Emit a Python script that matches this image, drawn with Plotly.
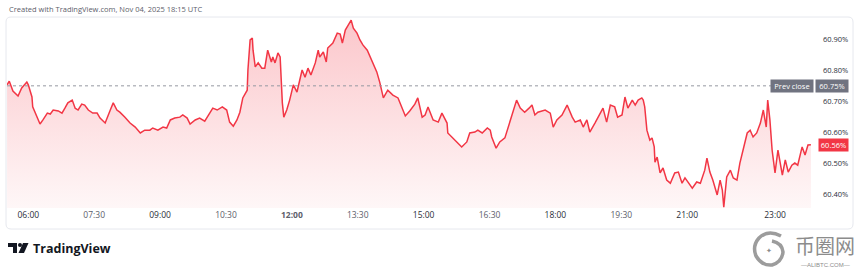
import plotly.graph_objects as go

DATE = "2025-11-04"

times = [
    "05:31", "05:34", "05:39", "05:46", "05:51", "05:58", "06:00", "06:05", "06:06", "06:12",
    "06:16", "06:20", "06:26", "06:30", "06:34", "06:41", "06:46", "06:50", "06:54", "07:00",
    "07:04", "07:08", "07:13", "07:17", "07:22", "07:28", "07:34", "07:38", "07:45", "07:52",
    "07:56", "08:01", "08:05", "08:12", "08:19", "08:26", "08:33", "08:39", "08:46", "08:50",
    "08:57", "09:04", "09:09", "09:14", "09:20", "09:27", "09:31", "09:37", "09:41", "09:48",
    "09:54", "10:01", "10:12", "10:18", "10:25", "10:31", "10:35", "10:40", "10:45", "10:49",
    "10:53", "10:59", "11:00", "11:03", "11:06", "11:07", "11:10", "11:14", "11:19", "11:23",
    "11:26", "11:27", "11:32", "11:34", "11:37", "11:41", "11:44", "11:45", "11:47", "11:49",
    "11:53", "11:57", "12:02", "12:07", "12:14", "12:18", "12:22", "12:26", "12:32", "12:36",
    "12:38", "12:43", "12:47", "12:49", "12:56", "13:02", "13:06", "13:09", "13:13", "13:17",
    "13:21", "13:24", "13:29", "13:33", "13:37", "13:43", "13:47", "13:51", "13:56", "14:00",
    "14:05", "14:11", "14:18", "14:25", "14:30", "14:35", "14:41", "14:48", "14:52", "14:58",
    "15:02", "15:06", "15:13", "15:20", "15:25", "15:32", "15:33", "15:40", "15:47", "15:52",
    "15:59", "16:03", "16:10", "16:14", "16:20", "16:27", "16:31", "16:33", "16:39", "16:44",
    "16:51", "16:58", "17:02", "17:07", "17:12", "17:18", "17:24", "17:28", "17:32", "17:36",
    "17:46", "17:53", "17:57", "18:02", "18:09", "18:16", "18:23", "18:27", "18:34", "18:38",
    "18:43", "18:47", "18:54", "18:58", "19:05", "19:10", "19:15", "19:21", "19:25", "19:31",
    "19:35", "19:39", "19:45", "19:49", "19:53", "19:58", "20:00", "20:02", "20:05", "20:09",
    "20:12", "20:15", "20:16", "20:19", "20:23", "20:27", "20:32", "20:37", "20:43", "20:48",
    "20:53", "20:57", "21:01", "21:07", "21:13", "21:18", "21:24", "21:27", "21:31", "21:35",
    "21:41", "21:45", "21:48", "21:50", "21:54", "21:59", "22:03", "22:08", "22:12", "22:16",
    "22:22", "22:26", "22:30", "22:35", "22:40", "22:44", "22:48", "22:50", "22:53", "22:56",
    "23:00", "23:04", "23:10", "23:14", "23:18", "23:23", "23:27", "23:31", "23:37", "23:41",
    "23:45", "23:49",
]

values = [
    60.753, 60.765, 60.733, 60.717, 60.743, 60.762, 60.753, 60.714, 60.682, 60.646,
    60.627, 60.640, 60.662, 60.659, 60.672, 60.669, 60.662, 60.678, 60.695, 60.704,
    60.678, 60.672, 60.691, 60.688, 60.672, 60.662, 60.662, 60.646, 60.630, 60.672,
    60.695, 60.672, 60.665, 60.649, 60.630, 60.617, 60.598, 60.607, 60.607, 60.614,
    60.607, 60.617, 60.614, 60.640, 60.646, 60.649, 60.656, 60.646, 60.627, 60.640,
    60.646, 60.636, 60.678, 60.672, 60.682, 60.672, 60.633, 60.620, 60.640, 60.665,
    60.711, 60.736, 60.801, 60.898, 60.904, 60.865, 60.811, 60.824, 60.807, 60.807,
    60.856, 60.865, 60.827, 60.843, 60.824, 60.856, 60.843, 60.778, 60.695, 60.649,
    60.672, 60.704, 60.753, 60.730, 60.801, 60.778, 60.807, 60.785, 60.824, 60.865,
    60.843, 60.859, 60.827, 60.872, 60.888, 60.920, 60.917, 60.888, 60.930, 60.946,
    60.962, 60.936, 60.920, 60.898, 60.882, 60.865, 60.843, 60.824, 60.795, 60.762,
    60.711, 60.736, 60.720, 60.711, 60.682, 60.653, 60.669, 60.691, 60.711, 60.649,
    60.656, 60.682, 60.640, 60.633, 60.662, 60.630, 60.598, 60.582, 60.565, 60.553,
    60.569, 60.598, 60.601, 60.607, 60.598, 60.614, 60.607, 60.585, 60.549, 60.569,
    60.582, 60.633, 60.662, 60.704, 60.678, 60.665, 60.678, 60.688, 60.656, 60.665,
    60.672, 60.662, 60.617, 60.640, 60.656, 60.688, 60.649, 60.633, 60.640, 60.617,
    60.640, 60.601, 60.630, 60.649, 60.678, 60.633, 60.688, 60.682, 60.649, 60.656,
    60.714, 60.678, 60.704, 60.688, 60.704, 60.711, 60.704, 60.682, 60.607, 60.575,
    60.582, 60.553, 60.504, 60.520, 60.469, 60.485, 60.446, 60.436, 60.469, 60.472,
    60.436, 60.453, 60.440, 60.420, 60.440, 60.436, 60.478, 60.517, 60.472, 60.446,
    60.398, 60.446, 60.414, 60.359, 60.456, 60.478, 60.453, 60.446, 60.501, 60.543,
    60.598, 60.607, 60.585, 60.598, 60.630, 60.672, 60.617, 60.704, 60.640, 60.543,
    60.469, 60.543, 60.462, 60.511, 60.472, 60.494, 60.501, 60.494, 60.553, 60.527,
    60.559, 60.560,
]

tick_times = ["06:00", "07:30", "09:00", "10:30", "12:00", "13:30", "15:00",
              "16:30", "18:00", "19:30", "21:00", "23:00"]
tick_strong = ["12:00"]
tick_dark = ["06:00", "09:00", "15:00", "18:00", "21:00", "23:00"]

y_ticks = [60.40, 60.50, 60.60, 60.70, 60.80, 60.90]
prev_close = 60.75
last_value = 60.56

header_text = "Created with TradingView.com, Nov 04, 2025 18:15 UTC"

# ---- layout geometry (pixels) ----
W, H = 860, 269
PL, PR, PT, PB = 7, 815, 17, 208
X_START = f"{DATE} 05:30:54"
X_END = f"{DATE} 23:54:36"
Y_MIN, Y_MAX = 60.356, 60.972

RED = "#F23645"
GREY_LBL = "#707380"
WM = "#8c8c8c"


def px(x):
    return (x - PL) / (PR - PL)


def py(y):
    return (PB - y) / (PB - PT)


x_vals = [f"{DATE} {t}" for t in times]

fig = go.Figure()
fig.add_trace(go.Scatter(
    x=x_vals, y=values, mode="lines",
    line=dict(color=RED, width=1.5),
    fill="tozeroy",
    fillgradient=dict(
        type="vertical",
        colorscale=[[0, "rgba(242,54,69,0.04)"], [1, "rgba(242,54,69,0.28)"]],
        start=Y_MIN, stop=max(values),
    ),
    hoverinfo="skip", showlegend=False,
))


def tick_label(t):
    if t in tick_strong:
        return f"<b>{t}</b>"
    if t in tick_dark:
        return f"<span style='color:#2a2e39'>{t}</span>"
    return t


fig.update_layout(
    width=W, height=H,
    margin=dict(l=PL, r=W - PR, t=PT, b=H - PB),
    paper_bgcolor="white", plot_bgcolor="white",
    font=dict(family="Open Sans", color="#2a2e39"),
    xaxis=dict(
        range=[X_START, X_END], showgrid=False, zeroline=False, showline=False,
        tickvals=[f"{DATE} {t}" for t in tick_times],
        ticktext=[tick_label(t) for t in tick_times],
        tickfont=dict(size=8.5, color="#5d606b"), ticks="",
        fixedrange=True,
    ),
    yaxis=dict(
        range=[Y_MIN, Y_MAX], side="right", showgrid=False, zeroline=False,
        showline=False, tickvals=y_ticks,
        ticktext=[f"{v:.2f}%" for v in y_ticks],
        tickfont=dict(size=7.5, color="#2a2e39"), ticks="",
        ticklabelstandoff=7, fixedrange=True,
    ),
)

shapes = []
# chart frame with rounded corners
r = 5
x0, x1, y0, y1 = 6, 853, 17, 229
path = (f"M {px(x0 + r)},{py(y0)} L {px(x1 - r)},{py(y0)} Q {px(x1)},{py(y0)} {px(x1)},{py(y0 + r)} "
        f"L {px(x1)},{py(y1 - r)} Q {px(x1)},{py(y1)} {px(x1 - r)},{py(y1)} "
        f"L {px(x0 + r)},{py(y1)} Q {px(x0)},{py(y1)} {px(x0)},{py(y1 - r)} "
        f"L {px(x0)},{py(y0 + r)} Q {px(x0)},{py(y0)} {px(x0 + r)},{py(y0)} Z")
shapes.append(dict(type="path", xref="paper", yref="paper", path=path,
                   line=dict(color="#e6e8ee", width=1), layer="below"))
# prev close dotted line
shapes.append(dict(type="line", xref="paper", yref="y", x0=0, x1=px(771),
                   y0=prev_close, y1=prev_close,
                   line=dict(color="#9598a1", width=1, dash="dot")))
# TradingView logo
logo_t = (f"M {px(8)},{py(243)} L {px(17)},{py(243)} L {px(17)},{py(253)} L {px(13)},{py(253)} "
          f"L {px(13)},{py(247)} L {px(8)},{py(247)} Z")
shapes.append(dict(type="path", xref="paper", yref="paper", path=logo_t,
                   fillcolor="#131722", line=dict(width=0)))
shapes.append(dict(type="circle", xref="paper", yref="paper",
                   x0=px(18), x1=px(22), y0=py(247), y1=py(243),
                   fillcolor="#131722", line=dict(width=0)))
logo_7 = (f"M {px(23)},{py(243)} L {px(28.5)},{py(243)} L {px(24)},{py(253)} L {px(18.5)},{py(253)} Z")
shapes.append(dict(type="path", xref="paper", yref="paper", path=logo_7,
                   fillcolor="#131722", line=dict(width=0)))
# watermark logo ring (swirl)
ring = (f"M {px(781)},{py(236)} Q {px(768)},{py(229)} {px(759)},{py(238)} "
        f"Q {px(752)},{py(246)} {px(756)},{py(256)} Q {px(762)},{py(266)} {px(772)},{py(265)} "
        f"Q {px(782)},{py(262)} {px(783)},{py(252)} Q {px(782)},{py(243)} {px(772)},{py(241)}")
shapes.append(dict(type="path", xref="paper", yref="paper", path=ring,
                   line=dict(color="#9c9c9c", width=3.5)))
fig.update_layout(shapes=shapes)

ann = []
ann.append(dict(xref="paper", yref="paper", x=px(7), y=py(9), xanchor="left", yanchor="middle",
                text=header_text, showarrow=False,
                font=dict(size=7.5, color="#5d606b", family="Open Sans")))
ann.append(dict(xref="paper", yref="y", x=px(792), y=prev_close, text="Prev close",
                showarrow=False, bgcolor=GREY_LBL, width=40, height=10,
                font=dict(size=7.5, color="white"), xanchor="center", yanchor="middle"))
ann.append(dict(xref="paper", yref="y", x=px(832), y=prev_close, text=f"{prev_close:.2f}%",
                showarrow=False, bgcolor=GREY_LBL, width=30, height=10,
                font=dict(size=7.5, color="white"), xanchor="center", yanchor="middle"))
ann.append(dict(xref="paper", yref="y", x=px(834), y=last_value, text=f"{last_value:.2f}%",
                showarrow=False, bgcolor=RED, width=27, height=10,
                font=dict(size=7.5, color="white"), xanchor="center", yanchor="middle"))
ann.append(dict(xref="paper", yref="paper", x=px(31), y=py(248), xanchor="left", yanchor="middle",
                text="<b>TradingView</b>", showarrow=False,
                font=dict(size=12.5, color="#131722", family="Open Sans")))
ann.append(dict(xref="paper", yref="paper", x=px(825), y=py(246), xanchor="center", yanchor="middle",
                text="币圈网", showarrow=False,
                font=dict(size=20, color=WM, family="Noto Sans CJK SC")))
ann.append(dict(xref="paper", yref="paper", x=px(825), y=py(264.5), xanchor="center", yanchor="middle",
                text="—ALIBTC.COM—", showarrow=False,
                font=dict(size=6, color=WM, family="Liberation Sans")))
ann.append(dict(xref="paper", yref="paper", x=px(769), y=py(251), xanchor="center", yanchor="middle",
                text="✦", showarrow=False,
                font=dict(size=7, color=WM, family="DejaVu Sans")))
fig.update_layout(annotations=ann)

fig.write_html("out.html", config={"displayModeBar": False})
